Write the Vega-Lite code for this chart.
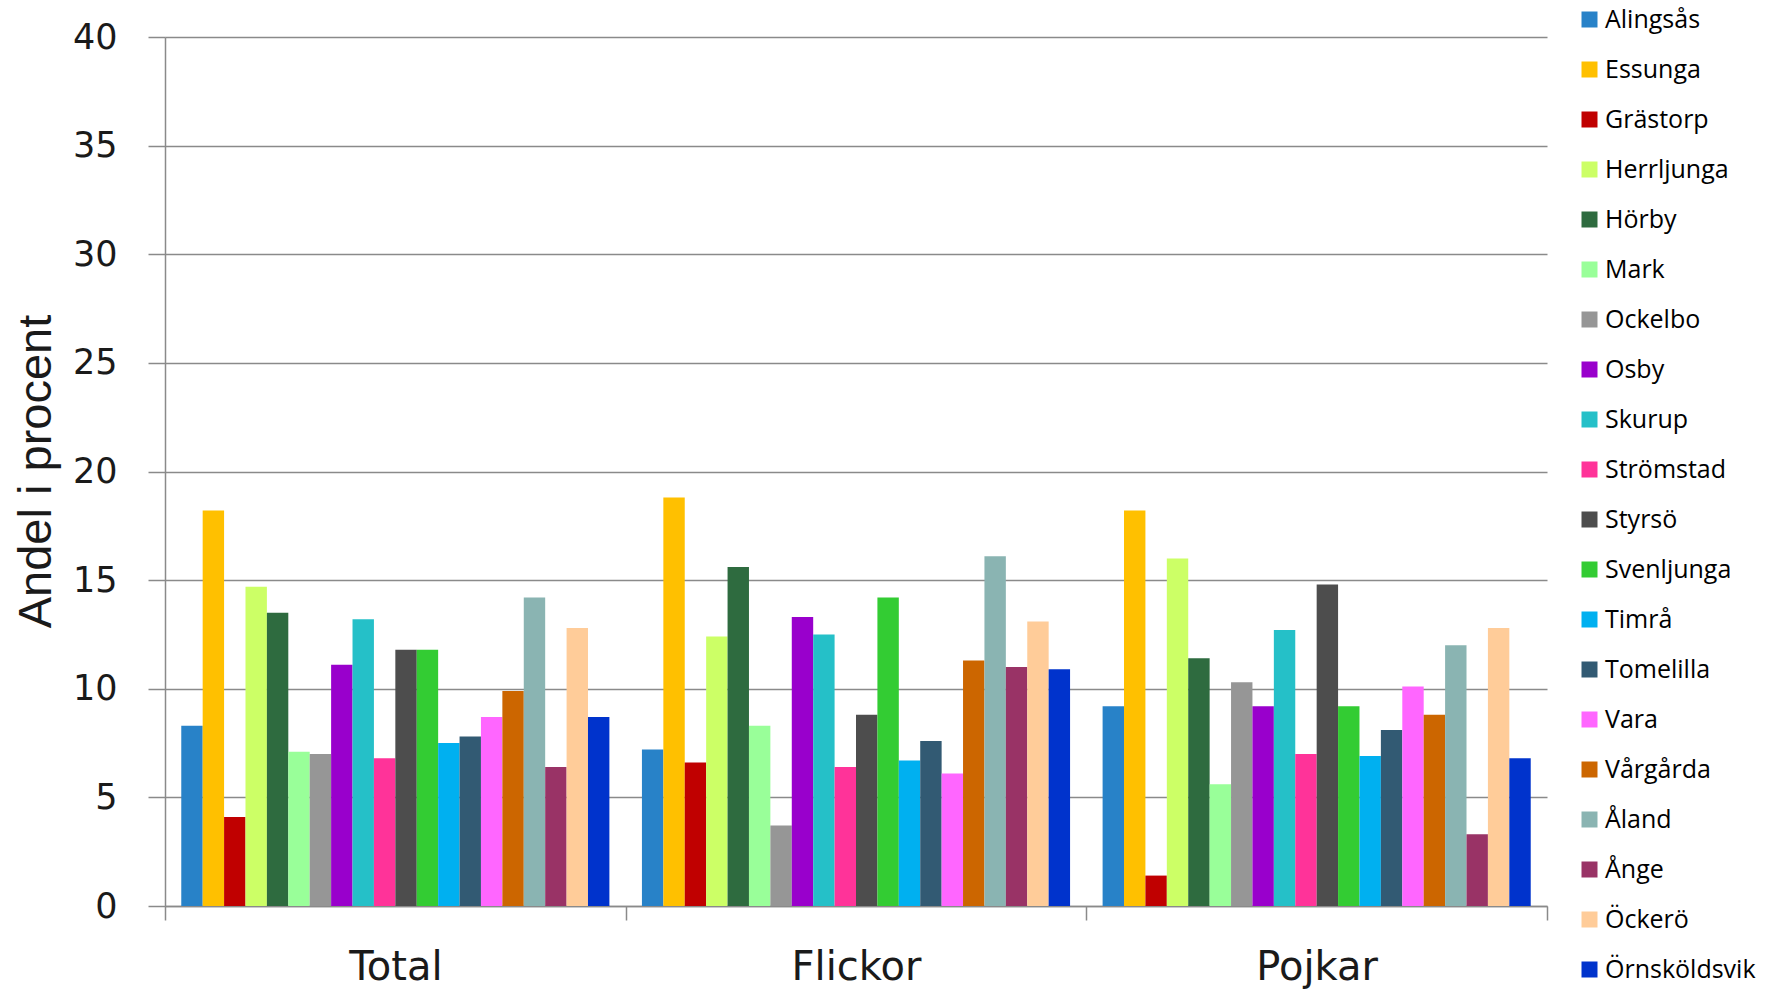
{
  "$schema": "https://vega.github.io/schema/vega-lite/v6.json",
  "width": 1382,
  "height": 869,
  "autosize": {"type": "none"},
  "padding": {"left": 165, "top": 37, "right": 236, "bottom": 84},
  "background": "white",
  "config": {"view": {"stroke": null}},
  "data": {"values": [
    {"grupp": "Total", "kommun": "Alingsås", "andel": 8.3},
    {"grupp": "Total", "kommun": "Essunga", "andel": 18.2},
    {"grupp": "Total", "kommun": "Grästorp", "andel": 4.1},
    {"grupp": "Total", "kommun": "Herrljunga", "andel": 14.7},
    {"grupp": "Total", "kommun": "Hörby", "andel": 13.5},
    {"grupp": "Total", "kommun": "Mark", "andel": 7.1},
    {"grupp": "Total", "kommun": "Ockelbo", "andel": 7.0},
    {"grupp": "Total", "kommun": "Osby", "andel": 11.1},
    {"grupp": "Total", "kommun": "Skurup", "andel": 13.2},
    {"grupp": "Total", "kommun": "Strömstad", "andel": 6.8},
    {"grupp": "Total", "kommun": "Styrsö", "andel": 11.8},
    {"grupp": "Total", "kommun": "Svenljunga", "andel": 11.8},
    {"grupp": "Total", "kommun": "Timrå", "andel": 7.5},
    {"grupp": "Total", "kommun": "Tomelilla", "andel": 7.8},
    {"grupp": "Total", "kommun": "Vara", "andel": 8.7},
    {"grupp": "Total", "kommun": "Vårgårda", "andel": 9.9},
    {"grupp": "Total", "kommun": "Åland", "andel": 14.2},
    {"grupp": "Total", "kommun": "Ånge", "andel": 6.4},
    {"grupp": "Total", "kommun": "Öckerö", "andel": 12.8},
    {"grupp": "Total", "kommun": "Örnsköldsvik", "andel": 8.7},
    {"grupp": "Flickor", "kommun": "Alingsås", "andel": 7.2},
    {"grupp": "Flickor", "kommun": "Essunga", "andel": 18.8},
    {"grupp": "Flickor", "kommun": "Grästorp", "andel": 6.6},
    {"grupp": "Flickor", "kommun": "Herrljunga", "andel": 12.4},
    {"grupp": "Flickor", "kommun": "Hörby", "andel": 15.6},
    {"grupp": "Flickor", "kommun": "Mark", "andel": 8.3},
    {"grupp": "Flickor", "kommun": "Ockelbo", "andel": 3.7},
    {"grupp": "Flickor", "kommun": "Osby", "andel": 13.3},
    {"grupp": "Flickor", "kommun": "Skurup", "andel": 12.5},
    {"grupp": "Flickor", "kommun": "Strömstad", "andel": 6.4},
    {"grupp": "Flickor", "kommun": "Styrsö", "andel": 8.8},
    {"grupp": "Flickor", "kommun": "Svenljunga", "andel": 14.2},
    {"grupp": "Flickor", "kommun": "Timrå", "andel": 6.7},
    {"grupp": "Flickor", "kommun": "Tomelilla", "andel": 7.6},
    {"grupp": "Flickor", "kommun": "Vara", "andel": 6.1},
    {"grupp": "Flickor", "kommun": "Vårgårda", "andel": 11.3},
    {"grupp": "Flickor", "kommun": "Åland", "andel": 16.1},
    {"grupp": "Flickor", "kommun": "Ånge", "andel": 11.0},
    {"grupp": "Flickor", "kommun": "Öckerö", "andel": 13.1},
    {"grupp": "Flickor", "kommun": "Örnsköldsvik", "andel": 10.9},
    {"grupp": "Pojkar", "kommun": "Alingsås", "andel": 9.2},
    {"grupp": "Pojkar", "kommun": "Essunga", "andel": 18.2},
    {"grupp": "Pojkar", "kommun": "Grästorp", "andel": 1.4},
    {"grupp": "Pojkar", "kommun": "Herrljunga", "andel": 16.0},
    {"grupp": "Pojkar", "kommun": "Hörby", "andel": 11.4},
    {"grupp": "Pojkar", "kommun": "Mark", "andel": 5.6},
    {"grupp": "Pojkar", "kommun": "Ockelbo", "andel": 10.3},
    {"grupp": "Pojkar", "kommun": "Osby", "andel": 9.2},
    {"grupp": "Pojkar", "kommun": "Skurup", "andel": 12.7},
    {"grupp": "Pojkar", "kommun": "Strömstad", "andel": 7.0},
    {"grupp": "Pojkar", "kommun": "Styrsö", "andel": 14.8},
    {"grupp": "Pojkar", "kommun": "Svenljunga", "andel": 9.2},
    {"grupp": "Pojkar", "kommun": "Timrå", "andel": 6.9},
    {"grupp": "Pojkar", "kommun": "Tomelilla", "andel": 8.1},
    {"grupp": "Pojkar", "kommun": "Vara", "andel": 10.1},
    {"grupp": "Pojkar", "kommun": "Vårgårda", "andel": 8.8},
    {"grupp": "Pojkar", "kommun": "Åland", "andel": 12.0},
    {"grupp": "Pojkar", "kommun": "Ånge", "andel": 3.3},
    {"grupp": "Pojkar", "kommun": "Öckerö", "andel": 12.8},
    {"grupp": "Pojkar", "kommun": "Örnsköldsvik", "andel": 6.8}
  ]},
  "mark": {"type": "bar"},
  "encoding": {
    "x": {
      "field": "grupp", "type": "nominal",
      "sort": ["Total", "Flickor", "Pojkar"],
      "scale": {"paddingInner": 0, "paddingOuter": 0},
      "axis": {
        "title": null, "labelAngle": 0, "tickBand": "extent",
        "labelFont": "DejaVu Sans", "labelFontSize": 40, "labelColor": "#1a1a1a",
        "labelBaseline": "top", "labelPadding": 27,
        "tickSize": 14, "tickColor": "#8a8a8a", "tickWidth": 1.5,
        "domainColor": "#8a8a8a", "domainWidth": 1.5, "grid": false
      }
    },
    "xOffset": {
      "field": "kommun", "type": "nominal",
      "scale": {"paddingInner": 0, "paddingOuter": 0.76,
        "domain": ["Alingsås","Essunga","Grästorp","Herrljunga","Hörby","Mark","Ockelbo","Osby","Skurup","Strömstad","Styrsö","Svenljunga","Timrå","Tomelilla","Vara","Vårgårda","Åland","Ånge","Öckerö","Örnsköldsvik"]}
    },
    "y": {
      "field": "andel", "type": "quantitative",
      "scale": {"domain": [0, 40], "nice": false},
      "axis": {
        "title": "Andel i procent", "values": [0, 5, 10, 15, 20, 25, 30, 35, 40],
        "titleFont": "Liberation Sans", "titleFontSize": 47, "titleFontWeight": "normal",
        "titleColor": "#1a1a1a", "titleAngle": 270, "titleX": -129, "titleY": 434,
        "titleAlign": "center", "titleBaseline": "middle",
        "labelFont": "DejaVu Sans", "labelFontSize": 35, "labelColor": "#1a1a1a",
        "labelPadding": 31, "tickSize": 17, "tickColor": "#8a8a8a", "tickWidth": 1.5,
        "domainColor": "#8a8a8a", "domainWidth": 1.5,
        "grid": true, "gridColor": "#8a8a8a", "gridWidth": 1.5
      }
    },
    "color": {
      "field": "kommun", "type": "nominal",
      "scale": {
        "domain": ["Alingsås","Essunga","Grästorp","Herrljunga","Hörby","Mark","Ockelbo","Osby","Skurup","Strömstad","Styrsö","Svenljunga","Timrå","Tomelilla","Vara","Vårgårda","Åland","Ånge","Öckerö","Örnsköldsvik"],
        "range": ["#2882C8","#FFC000","#C00000","#CCFF66","#2E6B3F","#99FF99","#969696","#9900CC","#25C0C8","#FF3399","#4D4D4D","#33CC33","#00B0F0","#325A73","#FF66FF","#CC6600","#8AB4B2","#993366","#FFCC99","#0033CC"]
      },
      "legend": {
        "title": null, "orient": "none", "legendX": 1412, "legendY": -30,
        "symbolType": "square", "symbolSize": 256, "symbolStrokeWidth": 0,
        "labelFont": "Open Sans", "labelFontSize": 25, "labelColor": "#000000",
        "labelOffset": 3, "rowPadding": 24, "padding": 0, "labelLimit": 300
      }
    }
  }
}
